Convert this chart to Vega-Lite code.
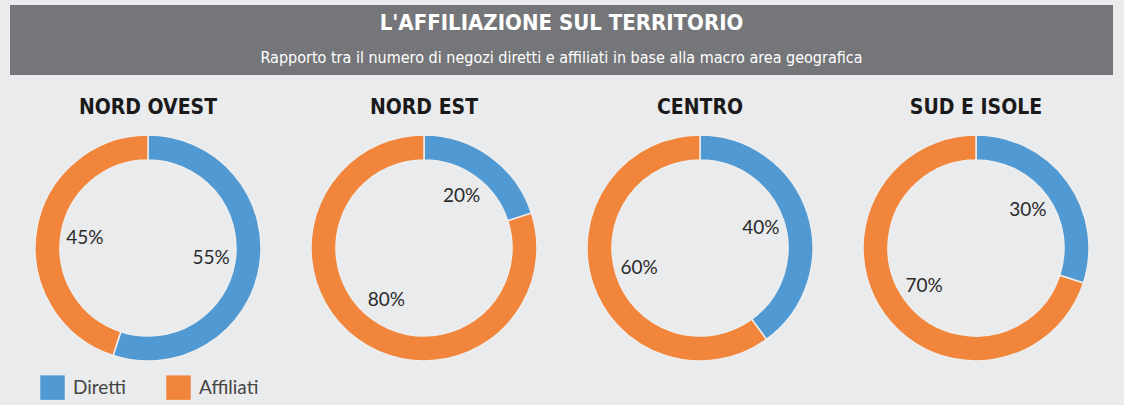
{
  "$schema": "https://vega.github.io/schema/vega-lite/v6.json",
  "background": "#eaebed",
  "padding": {"left": 10, "top": 5, "right": 10, "bottom": 5},
  "datasets": {
    "banner": [
      {"riga": 1, "testo": "L'AFFILIAZIONE SUL TERRITORIO"},
      {"riga": 2, "testo": "Rapporto tra il numero di negozi diretti e affiliati in base alla macro area geografica"}
    ],
    "quote": [
      {"area": "NORD OVEST", "tipo": "Diretti", "quota": 0.55},
      {"area": "NORD OVEST", "tipo": "Affiliati", "quota": 0.45},
      {"area": "NORD EST", "tipo": "Diretti", "quota": 0.20},
      {"area": "NORD EST", "tipo": "Affiliati", "quota": 0.80},
      {"area": "CENTRO", "tipo": "Diretti", "quota": 0.40},
      {"area": "CENTRO", "tipo": "Affiliati", "quota": 0.60},
      {"area": "SUD E ISOLE", "tipo": "Diretti", "quota": 0.30},
      {"area": "SUD E ISOLE", "tipo": "Affiliati", "quota": 0.70}
    ]
  },
  "vconcat": [
    {
      "width": 1103,
      "height": 70,
      "data": {"name": "banner"},
      "view": {"fill": "#757679", "stroke": null},
      "layer": [
        {
          "transform": [{"filter": "datum.riga == 1"}],
          "mark": {"type": "text", "font": "DejaVu Sans Condensed, sans-serif", "fontSize": 22, "fontWeight": "bold", "color": "#ffffff"},
          "encoding": {
            "y": {"field": "riga", "type": "ordinal", "axis": null, "scale": {"domain": [1, 2]}},
            "text": {"field": "testo"}
          }
        },
        {
          "transform": [{"filter": "datum.riga == 2"}],
          "mark": {"type": "text", "font": "DejaVu Sans Condensed, sans-serif", "fontSize": 16, "color": "#ffffff"},
          "encoding": {
            "y": {"field": "riga", "type": "ordinal", "axis": null, "scale": {"domain": [1, 2]}},
            "text": {"field": "testo"}
          }
        }
      ]
    },
    {
      "data": {"name": "quote"},
      "facet": {
        "column": {
          "field": "area",
          "type": "nominal",
          "sort": ["NORD OVEST", "NORD EST", "CENTRO", "SUD E ISOLE"],
          "header": {
            "title": null,
            "labelFont": "DejaVu Sans Condensed, sans-serif",
            "labelFontSize": 21,
            "labelFontWeight": "bold",
            "labelColor": "#1a1a1a",
            "labelPadding": 14
          }
        }
      },
      "spacing": 0,
      "spec": {
        "width": 276,
        "height": 226,
        "view": {"stroke": null},
        "layer": [
          {
            "mark": {"type": "arc", "innerRadius": 88, "outerRadius": 113, "stroke": "#eeeeee", "strokeWidth": 1.5},
            "encoding": {
              "theta": {"field": "quota", "type": "quantitative", "stack": true},
              "order": {"field": "tipo", "sort": "descending"},
              "color": {
                "field": "tipo",
                "type": "nominal",
                "scale": {"domain": ["Diretti", "Affiliati"], "range": ["#5199d3", "#f0853b"]},
                "legend": {"title": null}
              }
            }
          },
          {
            "mark": {"type": "text", "radius": 64, "font": "Lato, sans-serif", "fontSize": 19, "color": "#2a2a2a"},
            "encoding": {
              "theta": {"field": "quota", "type": "quantitative", "stack": true},
              "order": {"field": "tipo", "sort": "descending"},
              "text": {"field": "quota", "type": "quantitative", "format": ".0%"}
            }
          }
        ]
      }
    }
  ],
  "spacing": 22,
  "config": {
    "legend": {
      "orient": "none",
      "legendX": 30,
      "legendY": 370,
      "direction": "horizontal",
      "symbolType": "square",
      "symbolSize": 600,
      "symbolStrokeWidth": 0,
      "symbolOpacity": 1,
      "labelFont": "Lato, sans-serif",
      "labelFontSize": 19,
      "labelColor": "#444444",
      "labelOffset": 8,
      "columnPadding": 40,
      "padding": 0
    }
  }
}
